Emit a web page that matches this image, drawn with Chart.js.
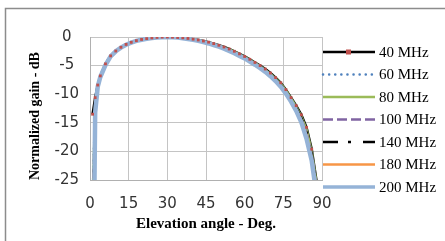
<!DOCTYPE html>
<html lang="en">
<head>
  <meta charset="UTF-8" />
  <title>Normalized gain vs elevation angle</title>
  <script src="https://cdn.jsdelivr.net/npm/chart.js"></script>
  <style>
    body { margin: 0; background: #fff; }
    #wrap { width: 445px; height: 241px; }
  </style>
</head>
<body>
  <div id="wrap"><canvas id="gainChart" width="445" height="241"></canvas></div>

  <script>
    // elevation angles (deg) where the pattern was sampled
    var angles = [1, 2, 3, 4, 6, 8, 10, 12, 14, 16, 18, 20, 22, 24, 26, 28, 30, 32, 34, 36, 38, 40, 42, 44,
      46, 48, 50, 52, 54, 56, 58, 60, 62, 64, 66, 68, 70, 72, 74, 76, 78, 80, 82, 84, 86, 88, 89];

    // normalized gain (dB) per frequency
    var gain40 = [-13.5, -10.6, -8.4, -6.8, -4.7, -3.3, -2.45, -1.8, -1.3, -0.93, -0.64, -0.43, -0.28, -0.16, -0.07, -0.02,
      0, -0.03, -0.08, -0.15, -0.25, -0.38, -0.52, -0.7, -0.9, -1.15, -1.45, -1.75, -2.1, -2.5, -2.95, -3.4,
      -3.9, -4.45, -5.0, -5.6, -6.3, -7.1, -8.0, -9.2, -10.6, -12.0, -13.6, -15.8, -19.6, -25.5, -31];
    var gain60 = [-28, -11.8, -8.5, -6.9, -4.8, -3.35, -2.5, -1.83, -1.33, -0.95, -0.66, -0.45, -0.29, -0.17, -0.08, -0.02,
      0, -0.03, -0.09, -0.17, -0.28, -0.41, -0.57, -0.76, -0.97, -1.22, -1.52, -1.84, -2.2, -2.6, -3.05, -3.52,
      -4.03, -4.6, -5.18, -5.8, -6.5, -7.3, -8.2, -9.4, -10.8, -12.3, -14.0, -16.3, -20.1, -26.2, -32];
    var gain80 = [-30, -12.2, -8.5, -6.9, -4.8, -3.35, -2.5, -1.83, -1.33, -0.95, -0.66, -0.45, -0.29, -0.17, -0.08, -0.02,
      0, -0.03, -0.09, -0.16, -0.27, -0.4, -0.55, -0.74, -0.95, -1.2, -1.5, -1.82, -2.18, -2.58, -3.02, -3.48,
      -4.0, -4.55, -5.12, -5.75, -6.45, -7.25, -8.15, -9.35, -10.75, -12.2, -13.9, -16.2, -20.0, -26.0, -32];
    var gain100 = [-32, -12.5, -8.6, -6.95, -4.85, -3.38, -2.5, -1.84, -1.34, -0.96, -0.67, -0.46, -0.3, -0.18, -0.08, -0.02,
      0, -0.04, -0.1, -0.18, -0.3, -0.43, -0.6, -0.8, -1.02, -1.28, -1.58, -1.92, -2.28, -2.7, -3.14, -3.62,
      -4.14, -4.7, -5.3, -5.95, -6.65, -7.45, -8.4, -9.6, -11.0, -12.5, -14.3, -16.8, -20.6, -26.8, -33];
    var gain140 = [-35, -12.8, -8.6, -6.95, -4.85, -3.38, -2.5, -1.84, -1.34, -0.96, -0.67, -0.46, -0.3, -0.18, -0.08, -0.02,
      0, -0.03, -0.09, -0.17, -0.28, -0.42, -0.58, -0.78, -1.0, -1.25, -1.55, -1.88, -2.25, -2.66, -3.1, -3.58,
      -4.1, -4.66, -5.25, -5.9, -6.6, -7.4, -8.35, -9.55, -10.95, -12.45, -14.2, -16.7, -20.5, -26.6, -33];
    var gain180 = [-40, -13.0, -8.65, -7.0, -4.88, -3.4, -2.5, -1.85, -1.35, -0.97, -0.68, -0.47, -0.31, -0.19, -0.09, -0.03,
      0, -0.04, -0.1, -0.19, -0.31, -0.46, -0.63, -0.83, -1.06, -1.32, -1.62, -1.96, -2.34, -2.76, -3.2, -3.68,
      -4.22, -4.78, -5.38, -6.02, -6.75, -7.58, -8.55, -9.75, -11.15, -12.7, -14.6, -17.2, -21.0, -27.3, -34];
    var gain200 = [-60, -13.2, -8.7, -7.0, -4.9, -3.4, -2.5, -1.85, -1.35, -0.98, -0.68, -0.47, -0.31, -0.19, -0.09, -0.03,
      0, -0.04, -0.11, -0.21, -0.34, -0.5, -0.68, -0.9, -1.13, -1.4, -1.7, -2.05, -2.45, -2.85, -3.3, -3.75,
      -4.3, -4.85, -5.45, -6.1, -6.85, -7.7, -8.7, -9.9, -11.3, -12.9, -14.9, -17.8, -21.6, -28, -35];

    var seriesNames = ['40 MHz', '60 MHz', '80 MHz', '100 MHz', '140 MHz', '180 MHz', '200 MHz'];
    var seriesValues = [gain40, gain60, gain80, gain100, gain140, gain180, gain200];

    var xTickValues = [0, 15, 30, 45, 60, 75, 90];
    var yTickValues = [0, -5, -10, -15, -20, -25];

    // look of each series (same order as seriesNames)
    var estilos = [
      { cor: '#000000', largura: 2.5, dash: [], cap: 'butt', ponto: true },
      { cor: '#4f81bd', largura: 2.5, dash: [0.1, 6], cap: 'round', ponto: false },
      { cor: '#9bbb59', largura: 2.5, dash: [], cap: 'butt', ponto: false },
      { cor: '#8064a2', largura: 2.5, dash: [10, 4], cap: 'butt', ponto: false },
      { cor: '#000000', largura: 2.5, dash: [15, 10, 3, 12], cap: 'butt', ponto: false },
      { cor: '#f79646', largura: 2.5, dash: [], cap: 'butt', ponto: false },
      { cor: '#95b3d7', largura: 4.5, dash: [], cap: 'butt', ponto: false }
    ];

    function paraPontos(valores) {
      var pontos = [];
      for (var j = 0; j < angles.length; j++) {
        pontos.push({ x: angles[j], y: valores[j] });
      }
      return pontos;
    }

    var datasets = [];
    for (var i = 0; i < seriesNames.length; i++) {
      var e = estilos[i];
      datasets.push({
        label: seriesNames[i],
        data: paraPontos(seriesValues[i]),
        borderColor: e.cor,
        borderWidth: e.largura,
        borderDash: e.dash,
        borderCapStyle: e.cap,
        pointRadius: 0,
        legendaPonto: e.ponto,
        tension: 0,
        fill: false,
        order: seriesNames.length - 1 - i
      });
    }

    // markers of 40 MHz go over every line, like in the spreadsheet
    datasets.push({
      label: 'marcadores 40 MHz',
      data: paraPontos(gain40),
      showLine: false,
      pointStyle: 'rect',
      pointRadius: 2,
      pointBackgroundColor: '#c0504d',
      pointBorderColor: '#c0504d',
      pointBorderWidth: 0,
      order: -1
    });

    // legend drawn to look like the spreadsheet one (long line, marker in the middle)
    var legendaLateral = {
      id: 'legendaLateral',
      afterDraw: function (chart) {
        var ctx = chart.ctx;
        for (var k = 0; k < seriesNames.length; k++) {
          var ds = chart.data.datasets[k];
          var y = 52 + k * 22.5;
          ctx.save();
          ctx.strokeStyle = ds.borderColor;
          ctx.lineWidth = Math.min(ds.borderWidth, 3.5);
          ctx.lineCap = ds.borderCapStyle;
          ctx.setLineDash(ds.borderDash);
          ctx.beginPath();
          ctx.moveTo(323, y);
          ctx.lineTo(375, y);
          ctx.stroke();
          if (ds.legendaPonto) {
            ctx.fillStyle = '#c0504d';
            ctx.fillRect(346, y - 2.5, 5, 5);
          }
          ctx.fillStyle = '#000';
          ctx.font = '15px "Liberation Serif"';
          ctx.textBaseline = 'middle';
          ctx.fillText(ds.label, 379, y + 1);
          ctx.restore();
        }
      }
    };

    // outer frame of the chart object
    var moldura = {
      id: 'moldura',
      afterDraw: function (chart) {
        var ctx = chart.ctx;
        ctx.save();
        ctx.strokeStyle = '#8c8c8c';
        ctx.lineWidth = 1.5;
        ctx.strokeRect(5.5, 8.5, 600, 400);
        ctx.restore();
      }
    };

    var opcoes = {
      responsive: false,
      animation: false,
      layout: { padding: { top: 37, right: 123, left: 0, bottom: 0 } },
      plugins: {
        legend: { display: false },
        tooltip: { enabled: false }
      },
      scales: {
        x: {
          type: 'linear',
          min: 0,
          max: 90,
          afterBuildTicks: function (scale) {
            scale.ticks = xTickValues.map(function (v) { return { value: v }; });
          },
          afterFit: function (scale) { scale.height = 61; },
          grid: { color: '#c4c4c4', drawTicks: false },
          border: { color: '#b0b0b0' },
          ticks: {
            padding: 15,
            color: '#333',
            font: { family: '"DejaVu Sans"', size: 15 }
          },
          title: {
            display: true,
            text: 'Elevation angle - Deg.',
            color: '#000',
            padding: { top: 0, bottom: 8 },
            font: { family: '"Liberation Serif"', size: 15, weight: 'bold' }
          }
        },
        y: {
          type: 'linear',
          min: -25,
          max: 0,
          afterBuildTicks: function (scale) {
            scale.ticks = yTickValues.map(function (v) { return { value: v }; });
          },
          afterFit: function (scale) { scale.width = 90; },
          grid: { color: '#c4c4c4', drawTicks: false },
          border: { color: '#b0b0b0' },
          ticks: {
            padding: 11,
            crossAlign: 'center',
            color: '#333',
            font: { family: '"DejaVu Sans"', size: 15 }
          },
          title: {
            display: true,
            text: 'Normalized gain - dB',
            align: 'start',
            color: '#000',
            padding: { top: 27, bottom: 0 },
            font: { family: '"Liberation Serif"', size: 14, weight: 'bold' }
          }
        }
      }
    };

    var grafico = document.getElementById('gainChart').getContext('2d');
    new Chart(grafico, {
      type: 'line',
      data: { datasets: datasets },
      options: opcoes,
      plugins: [legendaLateral, moldura]
    });
  </script>
</body>
</html>
